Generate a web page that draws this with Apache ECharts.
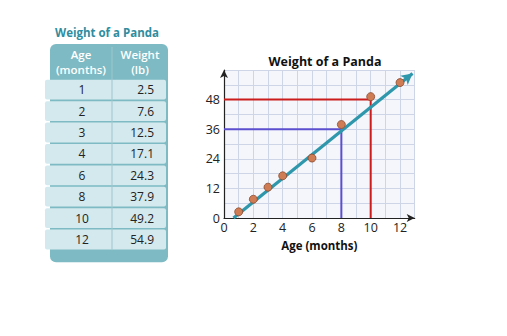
<!DOCTYPE html>
<html><head><meta charset="utf-8">
<script src="https://cdn.jsdelivr.net/npm/echarts@6/dist/echarts.min.js"></script>
<style>html,body{margin:0;padding:0;background:#fff;}#c{width:507px;height:336px;}</style>
</head><body><div id="c"></div>
<script>
// ---- data ----
var ages = [1, 2, 3, 4, 6, 8, 10, 12];
var weights = [2.5, 7.6, 12.5, 17.1, 24.3, 37.9, 49.2, 54.9];
var weightLabels = ['2.5', '7.6', '12.5', '17.1', '24.3', '37.9', '49.2', '54.9'];
var trendLine = [[0.65, 0], [12.85, 58.6]];
var redGuide = [[0, 48], [10, 48], [10, 0]];
var blueGuide = [[0, 36], [8, 36], [8, 0]];
var xTickLabels = [0, 2, 4, 6, 8, 10, 12];
var yTickLabels = [0, 12, 24, 36, 48];
var chartTitle = 'Weight of a Panda';
var xAxisName = 'Age (months)';
var tableHeaders = [['Age', '(months)'], ['Weight', '(lb)']];

var FONT = '"Open Sans", sans-serif';
var chart = echarts.init(document.getElementById('c'), null, {renderer: 'svg'});

// ---- table built from the arrays ----
var tX = 50, tW = 118, tTop = 44, headH = 35, rowH = 21.4, colX = 112;
var rowsTop = tTop + headH;
var rowsBottom = rowsTop + rowH * ages.length;
var g = [];
g.push({type: 'text', style: {text: chartTitle, x: 107, y: 32, textAlign: 'center', textVerticalAlign: 'middle', fill: '#2f8d9f', font: 'bold 11.5px ' + FONT}});
g.push({type: 'rect', shape: {x: tX, y: tTop, width: tW, height: rowsBottom + 12 - tTop, r: 6}, style: {fill: '#7dbac3'}});
for (var i = 0; i < ages.length; i++) {
  var y = rowsTop + i * rowH;
  g.push({type: 'rect', shape: {x: tX - 5, y: y + 0.8, width: tW + 3, height: rowH - 1.6, r: 2}, style: {fill: '#d4e9ee'}});
  g.push({type: 'text', style: {text: String(ages[i]), x: 82, y: y + rowH / 2, textAlign: 'center', textVerticalAlign: 'middle', fill: '#222', font: '12px ' + FONT}});
  g.push({type: 'text', style: {text: weightLabels[i], x: 154, y: y + rowH / 2, textAlign: 'right', textVerticalAlign: 'middle', fill: '#222', font: '12px ' + FONT}});
}
g.push({type: 'line', shape: {x1: colX, y1: tTop + 3, x2: colX, y2: rowsBottom}, style: {stroke: '#9fc6ce', lineWidth: 1}});
var hcx = [81, 140];
for (var h = 0; h < 2; h++) {
  g.push({type: 'text', style: {text: tableHeaders[h][0], x: hcx[h], y: tTop + 10, textAlign: 'center', textVerticalAlign: 'middle', fill: '#fff', font: '600 11.5px ' + FONT}});
  g.push({type: 'text', style: {text: tableHeaders[h][1], x: hcx[h], y: tTop + 25, textAlign: 'center', textVerticalAlign: 'middle', fill: '#fff', font: '600 11.5px ' + FONT}});
}

var option = {
  backgroundColor: '#fff',
  animation: false,
  title: {text: chartTitle, left: 320, top: 50, textAlign: 'center',
    textStyle: {fontFamily: FONT, fontWeight: 'bold', fontSize: 12.5, color: '#111'}},
  grid: {left: 224, top: 70, width: 190.7, height: 148, show: true, backgroundColor: '#f4f6fb', borderWidth: 0},
  xAxis: {type: 'value', min: 0, max: 13, interval: 1,
    name: xAxisName, nameLocation: 'middle', nameGap: 21,
    nameTextStyle: {fontFamily: FONT, fontWeight: 'bold', fontSize: 11.5, color: '#111', padding: [0, 0, 0, 0]},
    axisLine: {show: true, lineStyle: {color: '#222', width: 1.2}, symbol: ['none', 'arrow'], symbolSize: [6, 8]},
    axisTick: {show: false},
    splitLine: {show: true, lineStyle: {color: '#cdd5e6', width: 1}},
    axisLabel: {fontFamily: FONT, fontSize: 12.5, color: '#222', margin: 3,
      formatter: function (v) { return xTickLabels.indexOf(v) >= 0 ? String(v) : ''; },
      showMaxLabel: false}
  },
  yAxis: {type: 'value', min: 0, max: 60, interval: 6,
    axisLine: {show: true, lineStyle: {color: '#222', width: 1.2}, symbol: ['none', 'arrow'], symbolSize: [6, 8]},
    axisTick: {show: false},
    splitLine: {show: true, lineStyle: {color: '#cdd5e6', width: 1}},
    axisLabel: {fontFamily: FONT, fontSize: 12.5, color: '#222', margin: 4,
      formatter: function (v) { return yTickLabels.indexOf(v) >= 0 ? String(v) : ''; }}
  },
  series: [
    {type: 'line', data: redGuide, symbol: 'none', lineStyle: {color: '#cc1c1c', width: 2}, z: 2},
    {type: 'line', data: blueGuide, symbol: 'none', lineStyle: {color: '#5b4fd0', width: 2}, z: 2},
    {type: 'line', data: [], z: 3,
      markLine: {silent: true, symbol: ['none', 'arrow'], symbolSize: [9, 11], label: {show: false},
        lineStyle: {color: '#2f97ab', width: 3.2, type: 'solid'},
        data: [[{coord: trendLine[0]}, {coord: trendLine[1]}]]}},
    {type: 'scatter', z: 5, symbolSize: 8,
      data: ages.map(function (a, i) { return [a, weights[i]]; }),
      itemStyle: {color: '#cf7c55', borderColor: '#8a4a2e', borderWidth: 0.8, opacity: 1}}
  ],
  graphic: g
};
chart.setOption(option);
</script>
</body></html>
